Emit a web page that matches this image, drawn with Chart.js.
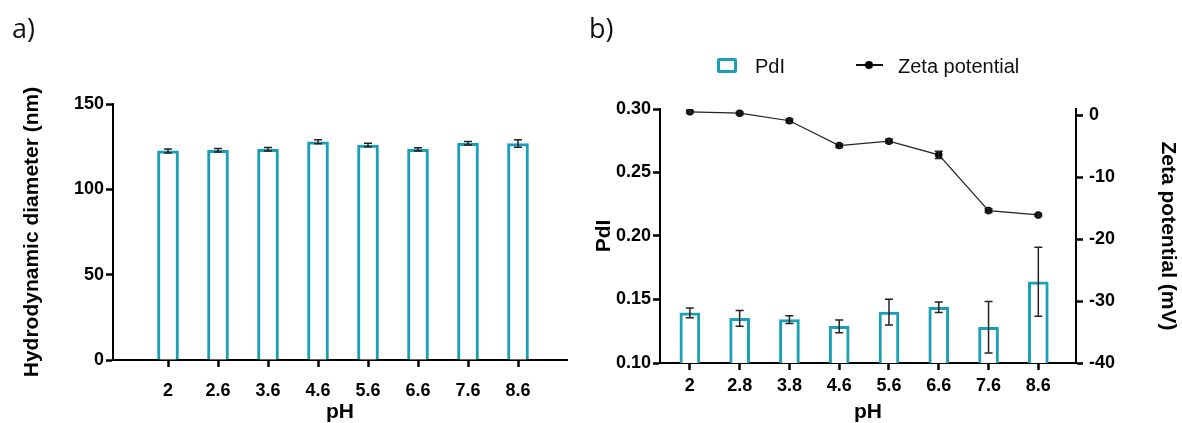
<!DOCTYPE html>
<html>
<head>
<meta charset="utf-8">
<script src="https://cdn.jsdelivr.net/npm/chart.js@4"></script>
<style>
  body { margin: 0; background: #fff; width: 1182px; height: 423px; position: relative; overflow: hidden; }
  .painel { position: absolute; top: 0; }
  .letra { position: absolute; font-family: "Open Sans", sans-serif; font-size: 27px; line-height: 26px; color: #111; }
  .legenda { position: absolute; font-family: "Liberation Sans", Arial, sans-serif; font-size: 20px; line-height: 20px; color: #111; }
</style>
</head>
<body>
<canvas id="graficoA" class="painel" width="580" height="423" style="left:0"></canvas>
<canvas id="graficoB" class="painel" width="602" height="423" style="left:580px"></canvas>
<div class="letra" style="left:12px;top:15px">a)</div>
<div class="letra" style="left:589px;top:15px">b)</div>
<!-- legenda do grafico b -->
<div style="position:absolute;left:717px;top:58px;width:20px;height:15px;box-sizing:border-box;border:3px solid #1a9fb7;border-radius:2px"></div>
<div class="legenda" style="left:755px;top:56px">PdI</div>
<div style="position:absolute;left:856px;top:64px;width:27px;height:1.5px;background:#111"></div>
<div style="position:absolute;left:865px;top:61px;width:8px;height:8px;border-radius:50%;background:#000"></div>
<div class="legenda" style="left:898px;top:56px">Zeta potential</div>

<script>
const teal = '#1a9fb7';

// grafico a) diametro hidrodinamico
const phA = ['2', '2.6', '3.6', '4.6', '5.6', '6.6', '7.6', '8.6'];
const diametro = [122.5, 122.9, 123.5, 127.9, 126.0, 123.4, 127.0, 126.8];
const diametroErro = [1.2, 1.0, 1.0, 1.2, 1.0, 1.0, 1.0, 2.2];
const ticksDiametro = [0, 50, 100, 150];

// grafico b) PdI e potencial zeta
const phB = ['2', '2.8', '3.8', '4.6', '5.6', '6.6', '7.6', '8.6'];
const pdi = [0.1395, 0.1352, 0.1342, 0.1289, 0.140, 0.1439, 0.1281, 0.164];
const pdiErro = [0.0038, 0.0062, 0.003, 0.005, 0.0101, 0.0042, 0.0203, 0.0271];
const zeta = [0.55, 0.32, -0.9, -4.9, -4.2, -6.4, -15.4, -16.1];
const zetaErro = [0.2, 0.2, 0.3, 0.3, 0.3, 0.6, 0.3, 0.2];
const ticksPdi = [0.10, 0.15, 0.20, 0.25, 0.30];
const ticksZeta = [-40, -30, -20, -10, 0];

const fonteTick = { family: '"Liberation Sans", Arial, sans-serif', size: 18, weight: 'bold' };
const fonteTitulo = { family: '"Liberation Sans", Arial, sans-serif', size: 21, weight: 'bold', lineHeight: 1 };
const grade = { drawOnChartArea: false, offset: false, tickLength: 7, tickWidth: 2.5, tickColor: '#000' };
const borda = { color: '#000', width: 2 };

// desenha as barras de erro usando as escalas do proprio grafico
const barrasErro = {
  id: 'barrasErro',
  afterDatasetsDraw(chart) {
    const ctx = chart.ctx;
    chart.data.datasets.forEach((ds, i) => {
      if (!ds.erros) return;
      const meta = chart.getDatasetMeta(i);
      const escala = chart.scales[meta.yAxisID];
      ctx.save();
      ctx.strokeStyle = '#222';
      ctx.lineWidth = 1.5;
      meta.data.forEach((el, j) => {
        const v = ds.data[j].y, e = ds.erros[j], w = ds.capLargura;
        const y1 = escala.getPixelForValue(v + e);
        const y2 = escala.getPixelForValue(v - e);
        ctx.beginPath();
        ctx.moveTo(el.x, y1); ctx.lineTo(el.x, y2);
        ctx.moveTo(el.x - w, y1); ctx.lineTo(el.x + w, y1);
        ctx.moveTo(el.x - w, y2); ctx.lineTo(el.x + w, y2);
        ctx.stroke();
      });
      ctx.restore();
    });
  }
};

new Chart(document.getElementById('graficoA'), {
  type: 'bar',
  data: {
    datasets: [{
      data: phA.map((p, i) => ({ x: i, y: diametro[i] })),
      erros: diametroErro,
      capLargura: 4,
      backgroundColor: '#fff',
      borderColor: teal,
      borderWidth: 3,
      barThickness: 21
    }]
  },
  options: {
    responsive: false,
    animation: false,
    layout: { padding: { top: 104, right: 13, bottom: 0, left: 0 } },
    plugins: { legend: { display: false }, tooltip: { enabled: false } },
    scales: {
      x: {
        type: 'linear', min: -1.1, max: 7.98, offset: false,
        afterBuildTicks: s => { s.ticks = phA.map((p, i) => ({ value: i })); },
        afterFit: s => { s.height = 63; },
        ticks: { callback: v => phA[v], font: fonteTick, color: '#000', padding: 13, maxRotation: 0, autoSkip: false },
        grid: grade, border: borda,
        title: { display: true, text: 'pH', font: fonteTitulo, color: '#000', padding: { top: 0, bottom: 0 } }
      },
      y: {
        min: 0, max: 150,
        afterBuildTicks: s => { s.ticks = ticksDiametro.map(v => ({ value: v })); },
        afterFit: s => { s.width = 113; },
        ticks: { font: fonteTick, color: '#000', padding: 2 },
        grid: grade, border: borda,
        title: { display: true, text: 'Hydrodynamic diameter (nm)', font: fonteTitulo, color: '#000', padding: { top: 22, bottom: 0 } }
      }
    }
  },
  plugins: [barrasErro]
});

new Chart(document.getElementById('graficoB'), {
  type: 'bar',
  data: {
    datasets: [{
      label: 'PdI',
      data: phB.map((p, i) => ({ x: i, y: pdi[i] })),
      erros: pdiErro,
      capLargura: 4,
      yAxisID: 'y',
      backgroundColor: '#fff',
      borderColor: teal,
      borderWidth: 3,
      barThickness: 20,
      order: 1
    }, {
      type: 'line',
      label: 'Zeta potential',
      data: phB.map((p, i) => ({ x: i, y: zeta[i] })),
      erros: zetaErro,
      capLargura: 4,
      yAxisID: 'y2',
      borderColor: '#222',
      borderWidth: 1.2,
      pointRadius: 3.8,
      pointBorderWidth: 0,
      pointBackgroundColor: '#000',
      tension: 0,
      order: 0
    }]
  },
  options: {
    responsive: false,
    animation: false,
    layout: { padding: { top: 109, right: 0, bottom: 0, left: 0 } },
    plugins: { legend: { display: false }, tooltip: { enabled: false } },
    scales: {
      x: {
        type: 'linear', min: -0.6, max: 7.757, offset: false,
        afterBuildTicks: s => { s.ticks = phB.map((p, i) => ({ value: i })); },
        afterFit: s => { s.height = 60; },
        ticks: { callback: v => phB[v], font: fonteTick, color: '#000', padding: 5, maxRotation: 0, autoSkip: false },
        grid: grade, border: borda,
        title: { display: true, text: 'pH', font: fonteTitulo, color: '#000', padding: { top: 0, bottom: 0 } }
      },
      y: {
        position: 'left', min: 0.10, max: 0.30,
        afterBuildTicks: s => { s.ticks = ticksPdi.map(v => ({ value: v })); },
        afterFit: s => { s.width = 80; },
        ticks: { callback: v => v.toFixed(2), font: fonteTick, color: '#000', padding: 2 },
        grid: grade, border: borda,
        title: { display: true, text: 'PdI', font: fonteTitulo, color: '#000', padding: { top: 14, bottom: 0 } }
      },
      y2: {
        position: 'right', min: -40, max: 1,
        afterBuildTicks: s => { s.ticks = ticksZeta.map(v => ({ value: v })); },
        afterFit: s => { s.width = 106; },
        ticks: { font: fonteTick, color: '#000', padding: 6 },
        grid: grade, border: borda,
        title: { display: true, text: 'Zeta potential (mV)', font: fonteTitulo, color: '#000', padding: { top: 4, bottom: 0 } }
      }
    }
  },
  plugins: [barrasErro]
});
</script>
</body>
</html>
